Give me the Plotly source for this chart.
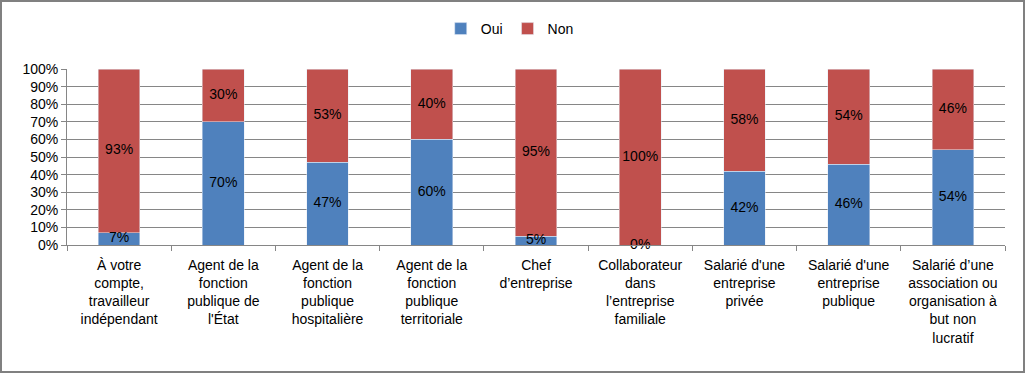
import plotly.graph_objects as go

categories = [
    "À votre<br>compte,<br>travailleur<br>indépendant",
    "Agent de la<br>fonction<br>publique de<br>l'État",
    "Agent de la<br>fonction<br>publique<br>hospitalière",
    "Agent de la<br>fonction<br>publique<br>territoriale",
    "Chef<br>d’entreprise",
    "Collaborateur<br>dans<br>l’entreprise<br>familiale",
    "Salarié d'une<br>entreprise<br>privée",
    "Salarié d'une<br>entreprise<br>publique",
    "Salarié d’une<br>association ou<br>organisation à<br>but non<br>lucratif",
]
oui = [7, 70, 47, 60, 5, 0, 42, 46, 54]
non = [93, 30, 53, 40, 95, 100, 58, 54, 46]
y_ticks = list(range(0, 101, 10))

BLUE = "#4F81BD"
RED = "#C0504D"
FONT = "Liberation Sans"

fig = go.Figure()
fig.add_trace(go.Bar(name="Oui", x=categories, y=oui, marker_color=BLUE, width=0.4))
fig.add_trace(go.Bar(name="Non", x=categories, y=non, marker_color=RED, width=0.4))

# labels centered in each segment
oui_mid = [v / 2 for v in oui]
non_mid = [o + n / 2 for o, n in zip(oui, non)]
fig.add_trace(go.Scatter(x=categories, y=oui_mid, mode="text",
                         text=[f"{v}%" for v in oui], showlegend=False,
                         textfont=dict(family=FONT, size=14, color="#000"),
                         hoverinfo="skip", cliponaxis=False))
fig.add_trace(go.Scatter(x=categories, y=non_mid, mode="text",
                         text=[f"{v}%" for v in non], showlegend=False,
                         textfont=dict(family=FONT, size=14, color="#000"),
                         hoverinfo="skip", cliponaxis=False))

W, H = 1025, 373
L, R, T, B = 67, 20, 69, 128
pw, ph = W - L - R, H - T - B

fig.update_layout(
    width=W, height=H,
    barmode="stack",
    margin=dict(l=L, r=R, t=T, b=B, autoexpand=False),
    paper_bgcolor="white", plot_bgcolor="white",
    font=dict(family=FONT, size=14, color="#000"),
    legend=dict(orientation="h", x=0.472, xanchor="center", y=1.0 + 40 / ph, yanchor="middle",
                font=dict(size=14), itemwidth=30, traceorder="normal"),
    xaxis=dict(showline=True, linecolor="#868686", linewidth=1,
               ticks="outside", tickson="boundaries", ticklen=5, tickcolor="#868686",
               tickfont=dict(size=14), showgrid=False, ticklabelstandoff=7,
               tickangle=0, automargin=False),
    yaxis=dict(range=[0, 100], tickvals=y_ticks, ticktext=[f"{v}%" for v in y_ticks],
               showgrid=True, gridcolor="#868686", gridwidth=1,
               showline=True, linecolor="#868686", linewidth=1,
               ticks="outside", ticklen=5, tickcolor="#868686",
               tickfont=dict(size=14), zeroline=False, automargin=False),
    shapes=[dict(type="rect", xref="paper", yref="paper",
                 x0=(1 - L) / pw, x1=1 + (R - 1) / pw,
                 y0=-(B - 1) / ph, y1=1 + (T - 1) / ph,
                 line=dict(color="#808080", width=2), fillcolor="rgba(0,0,0,0)")],
)

fig.write_html("out.html", config={"displayModeBar": False},
               post_script="document.body.style.margin='0';document.body.style.padding='0';")
